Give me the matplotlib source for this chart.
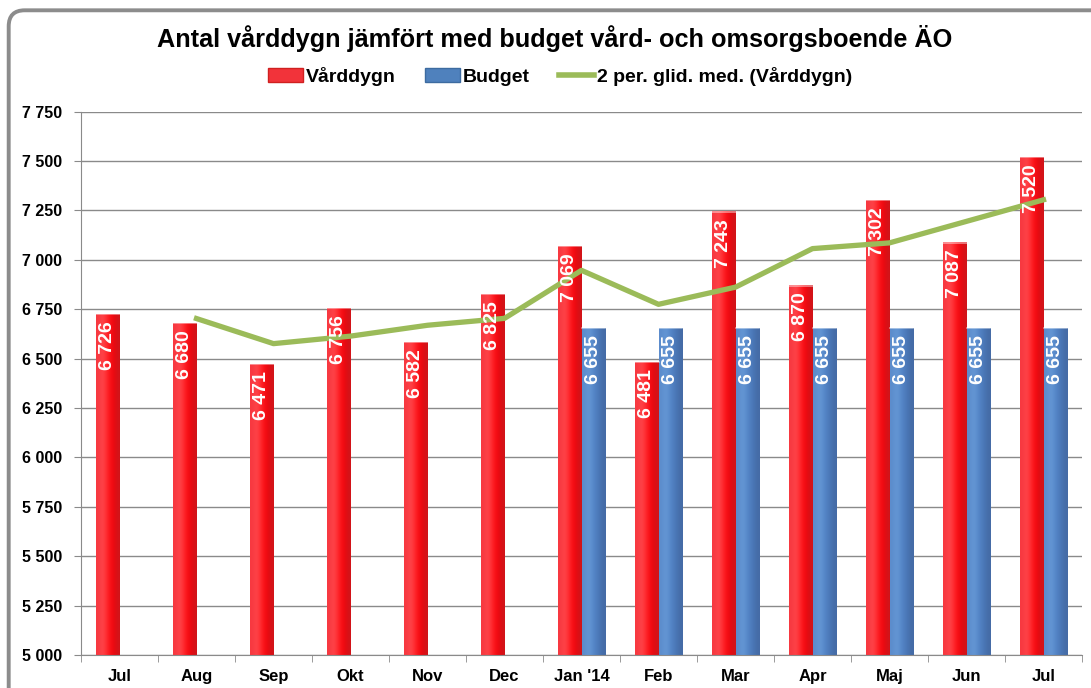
import numpy as np
import matplotlib
matplotlib.use('Agg')
from matplotlib import pyplot as plt
from matplotlib.patches import FancyBboxPatch, Patch
from matplotlib.lines import Line2D
from matplotlib.ticker import FuncFormatter, MultipleLocator

plt.rcParams['font.family'] = ['Liberation Sans', 'DejaVu Sans']
plt.rcParams['font.weight'] = 'bold'

months = ['Jul', 'Aug', 'Sep', 'Okt', 'Nov', 'Dec', "Jan '14", 'Feb', 'Mar', 'Apr', 'Maj', 'Jun', 'Jul']
varddygn = [6726, 6680, 6471, 6756, 6582, 6825, 7069, 6481, 7243, 6870, 7302, 7087, 7520]
budget = [None, None, None, None, None, None, 6655, 6655, 6655, 6655, 6655, 6655, 6655]
# 2 per. glid. med. (first month has no point)
glid_med = [None, 6703, 6576, 6614, 6669, 6704, 6947, 6775, 6862, 7057, 7086, 7195, 7304]

title = 'Antal vårddygn jämfört med budget vård- och omsorgsboende ÄO'

W, H = 1091, 688
fig = plt.figure(figsize=(W / 100, H / 100), dpi=100)
ax = fig.add_axes([81 / W, 1 - 655 / H, (1082 - 81) / W, (655 - 111.7) / H])

x = np.arange(len(months))
w = 0.3
ymin = 5000

def grad_bar(xc, val, cols):
    # horizontal gradient to mimic the shaded excel bars
    img = np.array(cols)[None, :, :]
    ax.imshow(img, extent=[xc - w / 2, xc + w / 2, ymin, val], aspect='auto',
              interpolation='bicubic', zorder=2)
    ax.plot([xc - w / 2, xc + w / 2], [val, val], color='white', lw=1.2, alpha=0.5, zorder=3)

red_cols = [(0.97, 0.22, 0.25), (1.0, 0.28, 0.30), (1.0, 0.12, 0.14), (0.95, 0.02, 0.05), (0.82, 0.08, 0.10)]
blue_cols = [(0.36, 0.55, 0.80), (0.40, 0.60, 0.84), (0.33, 0.52, 0.78), (0.29, 0.47, 0.72), (0.27, 0.42, 0.65)]

def bar_label(xc, v):
    ax.annotate(f'{v:,}'.replace(',', ' '), (xc, v), xytext=(0, -5), textcoords='offset points',
                rotation=90, ha='center', va='top', color='white', fontsize=14, fontweight='bold',
                zorder=5)

for i, v in enumerate(varddygn):
    grad_bar(x[i] - w / 2, v, red_cols)
    bar_label(x[i] - w / 2, v)
for i, v in enumerate(budget):
    if v is None:
        continue
    grad_bar(x[i] + w / 2, v, blue_cols)
    bar_label(x[i] + w / 2, v)

gx = [i for i, v in enumerate(glid_med) if v is not None]
gy = [v for v in glid_med if v is not None]
ax.plot(gx, gy, color='#9BBB59', lw=3.8, zorder=4, solid_joinstyle='round')

ax.set_xlim(-0.5, len(months) - 0.5)
ax.set_ylim(5000, 7750)
ax.yaxis.set_major_locator(MultipleLocator(250))
ax.yaxis.set_major_formatter(FuncFormatter(lambda v, p: f'{int(v):,}'.replace(',', ' ')))
ax.grid(axis='y', color='#8a8a8a', lw=1, zorder=0)
ax.set_axisbelow(True)
ax.set_xticks(x)
ax.set_xticklabels(months)
ax.set_xticks(np.arange(-0.5, len(months), 1), minor=True)
ax.tick_params(axis='x', which='major', length=0, pad=10, labelsize=12)
ax.tick_params(axis='x', which='minor', length=5, color='#8a8a8a')
ax.tick_params(axis='y', length=5, color='#8a8a8a', pad=8.6, labelsize=11.5)
for s in ['top', 'right']:
    ax.spines[s].set_visible(False)
for s in ['left', 'bottom']:
    ax.spines[s].set_color('#8a8a8a')
for lab in ax.get_xticklabels() + ax.get_yticklabels():
    lab.set_fontweight('bold')

fig.text(555 / W, 1 - 38 / H, title, ha='center', va='center', fontsize=18.2, fontweight='bold')

handles = [Patch(facecolor='#F2333A', edgecolor='#d02020'),
           Patch(facecolor='#4F81BD', edgecolor='#3d6ba0'),
           Line2D([0], [0], color='#9BBB59', lw=4)]
fig.legend(handles, ['Vårddygn', 'Budget', '2 per. glid. med. (Vårddygn)'],
           loc='center', bbox_to_anchor=(560 / W, 1 - 76 / H), ncol=3, frameon=False,
           prop={'weight': 'bold', 'size': 14}, handlelength=1.8, handleheight=0.7,
           handletextpad=0.15, columnspacing=1.5)

frame = FancyBboxPatch((8.7, -20), 1120, H - 10.3 + 20, boxstyle='round,pad=0,rounding_size=16',
                       transform=None, facecolor='none', edgecolor='#8c8c8c', lw=2.8)
fig.patches.append(frame)

fig.savefig('out.png', dpi=100)
